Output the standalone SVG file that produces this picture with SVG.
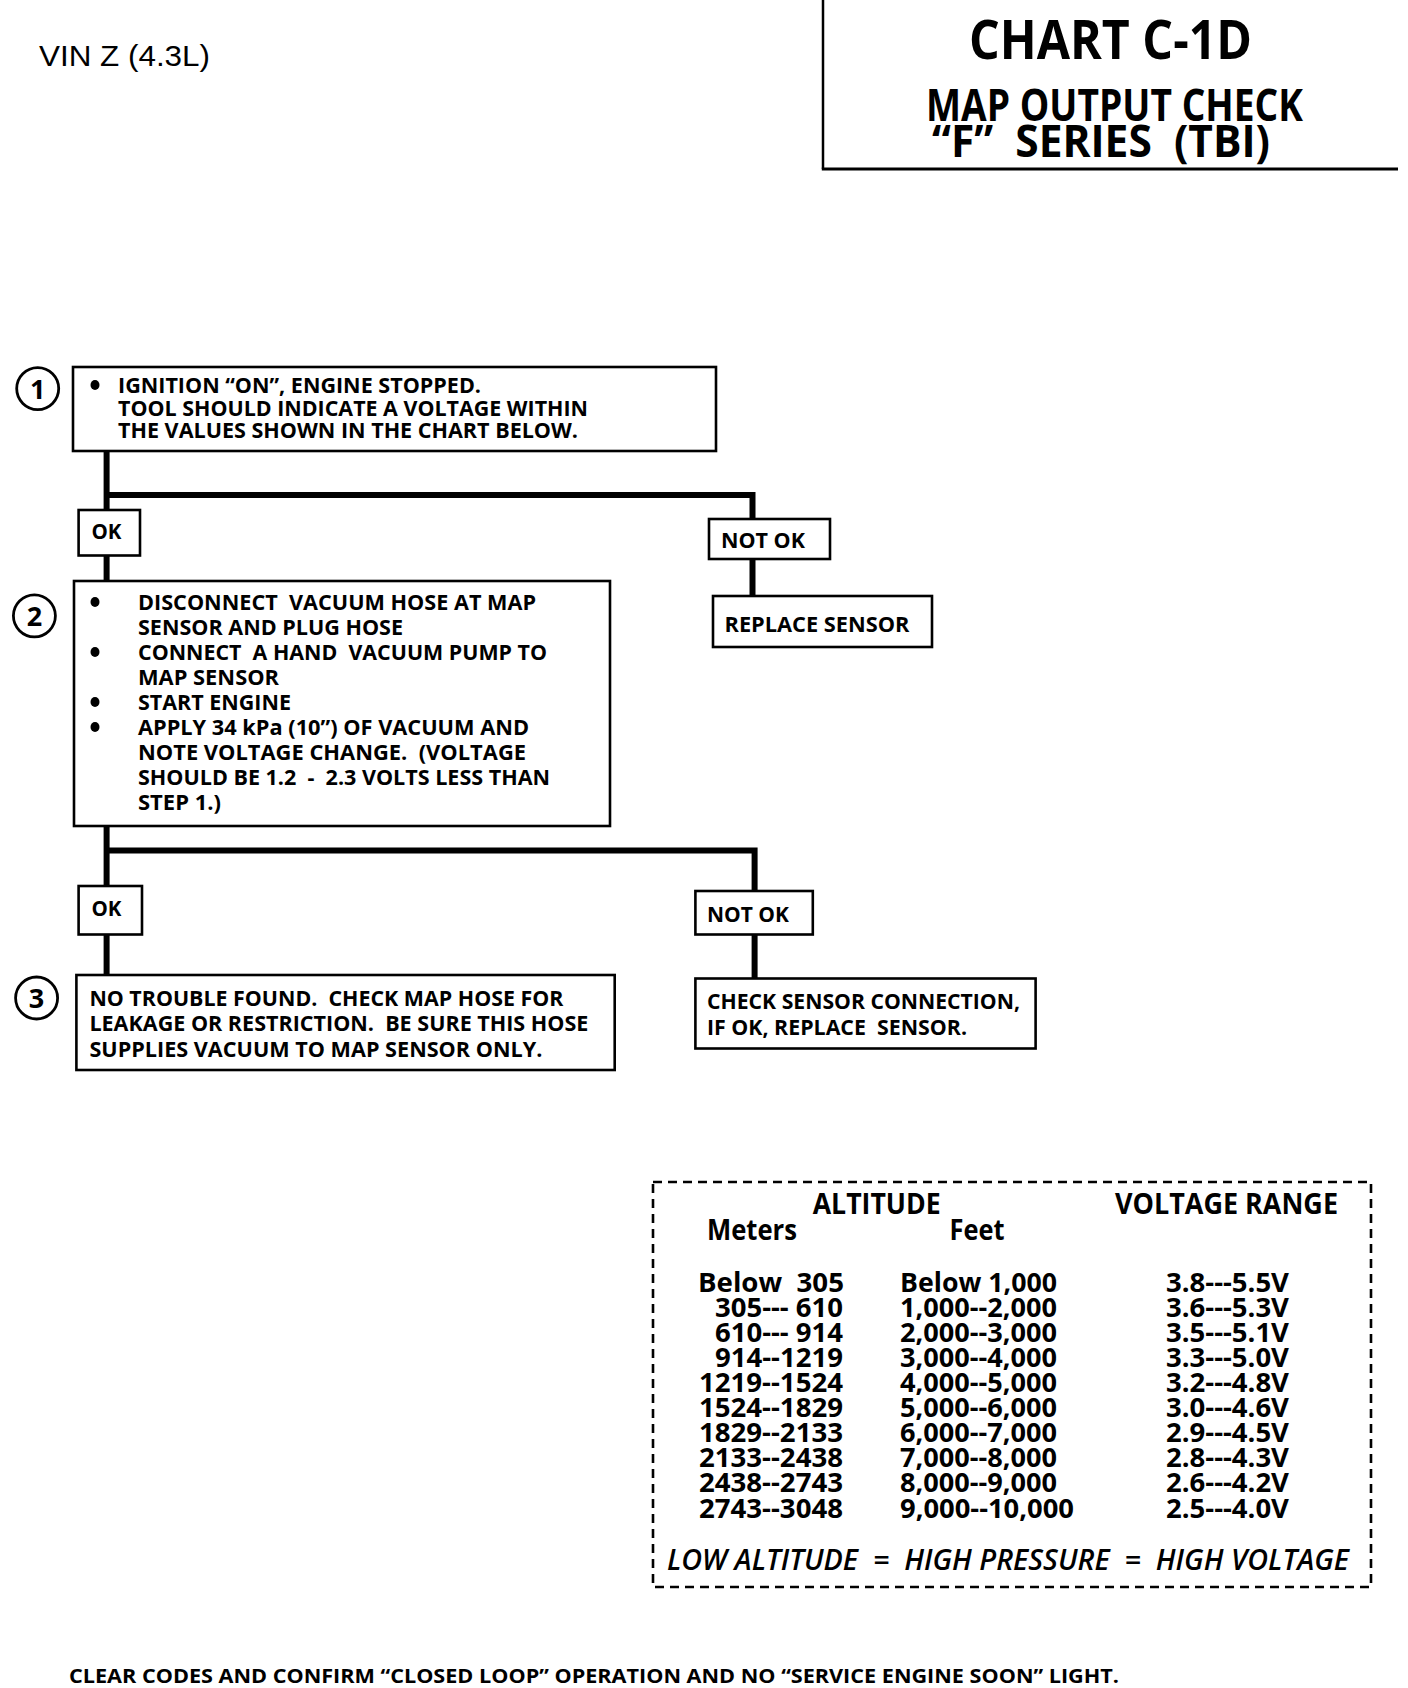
<svg xmlns="http://www.w3.org/2000/svg" width="1408" height="1688" viewBox="0 0 1408 1688">
<style>
text{white-space:pre;}
.b{font-family:"Open Sans","Liberation Sans",sans-serif;font-weight:700;fill:#000;}
.box{fill:#fff;stroke:#000;stroke-width:2.6;}
.num{font-family:"Open Sans","Liberation Sans",sans-serif;font-weight:700;font-size:27px;text-anchor:middle;}
.circ{fill:#fff;stroke:#000;stroke-width:2.8;}
.t21{font-size:21px;}
.tb{font-size:26px;}
.conn{stroke:#000;stroke-width:6;fill:none;stroke-linecap:butt;stroke-linejoin:miter;}
</style>
<rect width="1408" height="1688" fill="#fff"/>

<g id="header">
<text x="39" y="66" font-family="Liberation Sans, Arial, sans-serif" font-size="29" textLength="171" lengthAdjust="spacingAndGlyphs">VIN Z (4.3L)</text>
<line x1="823" y1="0" x2="823" y2="169" stroke="#000" stroke-width="2.5"/>
<line x1="821.8" y1="169" x2="1398" y2="169" stroke="#000" stroke-width="3.2"/>
<text class="b" x="969" y="59" font-size="53" textLength="283" lengthAdjust="spacingAndGlyphs">CHART C-1D</text>
<text class="b" x="926" y="121" font-size="44" textLength="377" lengthAdjust="spacingAndGlyphs">MAP OUTPUT CHECK</text>
<text class="b" x="932" y="157" font-size="44" textLength="338" lengthAdjust="spacingAndGlyphs">“F”  SERIES  (TBI)</text>
</g>

<g id="connectors">
<path class="conn" d="M106.6 451 V510"/>
<path class="conn" d="M106.6 495 H752.5 V519"/>
<path class="conn" d="M106.6 555.5 V581"/>
<path class="conn" d="M752.5 559 V596"/>
<path class="conn" d="M106.6 826 V886"/>
<path class="conn" d="M106.6 850.5 H754.6 V891"/>
<path class="conn" d="M106.6 934.5 V975"/>
<path class="conn" d="M754.6 934.5 V978.5"/>
</g>

<g id="step1">
<circle class="circ" cx="37.7" cy="388.6" r="21"/>
<text class="num" x="37.7" y="398.5">1</text>
<rect class="box" x="73" y="367" width="643" height="84"/>
<ellipse cx="95" cy="385" rx="4.5" ry="5"/>
<text class="b t21" x="118" y="393" textLength="363" lengthAdjust="spacingAndGlyphs">IGNITION “ON”, ENGINE STOPPED.</text>
<text class="b t21" x="118" y="415.5" textLength="470" lengthAdjust="spacingAndGlyphs">TOOL SHOULD INDICATE A VOLTAGE WITHIN</text>
<text class="b t21" x="118" y="438" textLength="460" lengthAdjust="spacingAndGlyphs">THE VALUES SHOWN IN THE CHART BELOW.</text>
</g>

<g id="ok1">
<rect class="box" x="78.6" y="510" width="61.4" height="45.5"/>
<text class="b t21" x="91.5" y="539" textLength="30" lengthAdjust="spacingAndGlyphs">OK</text>
</g>

<g id="notok1">
<rect class="box" x="709" y="519" width="121" height="40"/>
<text class="b t21" x="721" y="548" textLength="84" lengthAdjust="spacingAndGlyphs">NOT OK</text>
</g>

<g id="replace">
<rect class="box" x="713" y="596" width="219" height="51"/>
<text class="b t21" x="724.5" y="631.5" textLength="185" lengthAdjust="spacingAndGlyphs">REPLACE SENSOR</text>
</g>

<g id="step2">
<circle class="circ" cx="34.4" cy="615.8" r="21"/>
<text class="num" x="34.4" y="625.5">2</text>
<rect class="box" x="74" y="581" width="536" height="245"/>
<ellipse cx="95" cy="602" rx="4.5" ry="5"/>
<ellipse cx="95" cy="652" rx="4.5" ry="5"/>
<ellipse cx="95" cy="702" rx="4.5" ry="5"/>
<ellipse cx="95" cy="727" rx="4.5" ry="5"/>
<text class="b t21" x="138" y="610" textLength="398" lengthAdjust="spacingAndGlyphs">DISCONNECT  VACUUM HOSE AT MAP</text>
<text class="b t21" x="138" y="635" textLength="265" lengthAdjust="spacingAndGlyphs">SENSOR AND PLUG HOSE</text>
<text class="b t21" x="138" y="660" textLength="409" lengthAdjust="spacingAndGlyphs">CONNECT  A HAND  VACUUM PUMP TO</text>
<text class="b t21" x="138" y="685" textLength="141" lengthAdjust="spacingAndGlyphs">MAP SENSOR</text>
<text class="b t21" x="138" y="710" textLength="153" lengthAdjust="spacingAndGlyphs">START ENGINE</text>
<text class="b t21" x="138" y="735" textLength="391" lengthAdjust="spacingAndGlyphs">APPLY 34 kPa (10”) OF VACUUM AND</text>
<text class="b t21" x="138" y="759.5" textLength="388" lengthAdjust="spacingAndGlyphs">NOTE VOLTAGE CHANGE.  (VOLTAGE</text>
<text class="b t21" x="138" y="784.5" textLength="412" lengthAdjust="spacingAndGlyphs">SHOULD BE 1.2  -  2.3 VOLTS LESS THAN</text>
<text class="b t21" x="138" y="809.5" textLength="83" lengthAdjust="spacingAndGlyphs">STEP 1.)</text>
</g>

<g id="ok2">
<rect class="box" x="78.6" y="886" width="63.4" height="48.5"/>
<text class="b t21" x="91.5" y="916" textLength="30" lengthAdjust="spacingAndGlyphs">OK</text>
</g>

<g id="notok2">
<rect class="box" x="695.4" y="891" width="117.4" height="43.5"/>
<text class="b t21" x="707" y="921.5" textLength="82" lengthAdjust="spacingAndGlyphs">NOT OK</text>
</g>

<g id="checksensor">
<rect class="box" x="695.4" y="978.5" width="340.2" height="70"/>
<text class="b t21" x="707" y="1008.7" textLength="313" lengthAdjust="spacingAndGlyphs">CHECK SENSOR CONNECTION,</text>
<text class="b t21" x="707" y="1034.5" textLength="260" lengthAdjust="spacingAndGlyphs">IF OK, REPLACE  SENSOR.</text>
</g>

<g id="step3">
<circle class="circ" cx="36.6" cy="998" r="21"/>
<text class="num" x="36.6" y="1007.5">3</text>
<rect class="box" x="76.4" y="975" width="538.3" height="95"/>
<text class="b t21" x="89.4" y="1005.5" textLength="474" lengthAdjust="spacingAndGlyphs">NO TROUBLE FOUND.  CHECK MAP HOSE FOR</text>
<text class="b t21" x="89.4" y="1031" textLength="499" lengthAdjust="spacingAndGlyphs">LEAKAGE OR RESTRICTION.  BE SURE THIS HOSE</text>
<text class="b t21" x="89.4" y="1057" textLength="453" lengthAdjust="spacingAndGlyphs">SUPPLIES VACUUM TO MAP SENSOR ONLY.</text>
</g>

<g id="table">
<rect x="653" y="1182" width="718" height="405" fill="none" stroke="#000" stroke-width="2.6" stroke-dasharray="9 6"/>
<text class="b" font-size="28" x="812.7" y="1214" textLength="128" lengthAdjust="spacingAndGlyphs">ALTITUDE</text>
<text class="b" font-size="28" x="1115" y="1214" textLength="223" lengthAdjust="spacingAndGlyphs">VOLTAGE RANGE</text>
<text class="b" font-size="28" x="707" y="1240" textLength="90" lengthAdjust="spacingAndGlyphs">Meters</text>
<text class="b" font-size="28" x="949.5" y="1240" textLength="55" lengthAdjust="spacingAndGlyphs">Feet</text>

<g class="b tb">
<text x="698" y="1292" textLength="146" lengthAdjust="spacingAndGlyphs">Below  305</text>
<text x="715" y="1317" textLength="128" lengthAdjust="spacingAndGlyphs">305--- 610</text>
<text x="715" y="1342" textLength="128" lengthAdjust="spacingAndGlyphs">610--- 914</text>
<text x="715" y="1367" textLength="128" lengthAdjust="spacingAndGlyphs">914--1219</text>
<text x="699" y="1392" textLength="144" lengthAdjust="spacingAndGlyphs">1219--1524</text>
<text x="699" y="1417" textLength="144" lengthAdjust="spacingAndGlyphs">1524--1829</text>
<text x="699" y="1442" textLength="144" lengthAdjust="spacingAndGlyphs">1829--2133</text>
<text x="699" y="1467" textLength="144" lengthAdjust="spacingAndGlyphs">2133--2438</text>
<text x="699" y="1492" textLength="144" lengthAdjust="spacingAndGlyphs">2438--2743</text>
<text x="699" y="1518" textLength="144" lengthAdjust="spacingAndGlyphs">2743--3048</text>

<text x="900" y="1292" textLength="157" lengthAdjust="spacingAndGlyphs">Below 1,000</text>
<text x="900" y="1317" textLength="157" lengthAdjust="spacingAndGlyphs">1,000--2,000</text>
<text x="900" y="1342" textLength="157" lengthAdjust="spacingAndGlyphs">2,000--3,000</text>
<text x="900" y="1367" textLength="157" lengthAdjust="spacingAndGlyphs">3,000--4,000</text>
<text x="900" y="1392" textLength="157" lengthAdjust="spacingAndGlyphs">4,000--5,000</text>
<text x="900" y="1417" textLength="157" lengthAdjust="spacingAndGlyphs">5,000--6,000</text>
<text x="900" y="1442" textLength="157" lengthAdjust="spacingAndGlyphs">6,000--7,000</text>
<text x="900" y="1467" textLength="157" lengthAdjust="spacingAndGlyphs">7,000--8,000</text>
<text x="900" y="1492" textLength="157" lengthAdjust="spacingAndGlyphs">8,000--9,000</text>
<text x="900" y="1518" textLength="174" lengthAdjust="spacingAndGlyphs">9,000--10,000</text>

<text x="1166" y="1292" textLength="123" lengthAdjust="spacingAndGlyphs">3.8---5.5V</text>
<text x="1166" y="1317" textLength="123" lengthAdjust="spacingAndGlyphs">3.6---5.3V</text>
<text x="1166" y="1342" textLength="123" lengthAdjust="spacingAndGlyphs">3.5---5.1V</text>
<text x="1166" y="1367" textLength="123" lengthAdjust="spacingAndGlyphs">3.3---5.0V</text>
<text x="1166" y="1392" textLength="123" lengthAdjust="spacingAndGlyphs">3.2---4.8V</text>
<text x="1166" y="1417" textLength="123" lengthAdjust="spacingAndGlyphs">3.0---4.6V</text>
<text x="1166" y="1442" textLength="123" lengthAdjust="spacingAndGlyphs">2.9---4.5V</text>
<text x="1166" y="1467" textLength="123" lengthAdjust="spacingAndGlyphs">2.8---4.3V</text>
<text x="1166" y="1492" textLength="123" lengthAdjust="spacingAndGlyphs">2.6---4.2V</text>
<text x="1166" y="1518" textLength="123" lengthAdjust="spacingAndGlyphs">2.5---4.0V</text>
</g>
<text x="667" y="1570" font-family="Open Sans, Liberation Sans, sans-serif" font-style="italic" font-weight="600" font-size="29" textLength="682" lengthAdjust="spacingAndGlyphs">LOW ALTITUDE  =  HIGH PRESSURE  =  HIGH VOLTAGE</text>
</g>

<g id="footer">
<text class="b" x="69" y="1683" font-size="20" textLength="1050" lengthAdjust="spacingAndGlyphs">CLEAR CODES AND CONFIRM “CLOSED LOOP” OPERATION AND NO “SERVICE ENGINE SOON” LIGHT.</text>
</g>
</svg>
